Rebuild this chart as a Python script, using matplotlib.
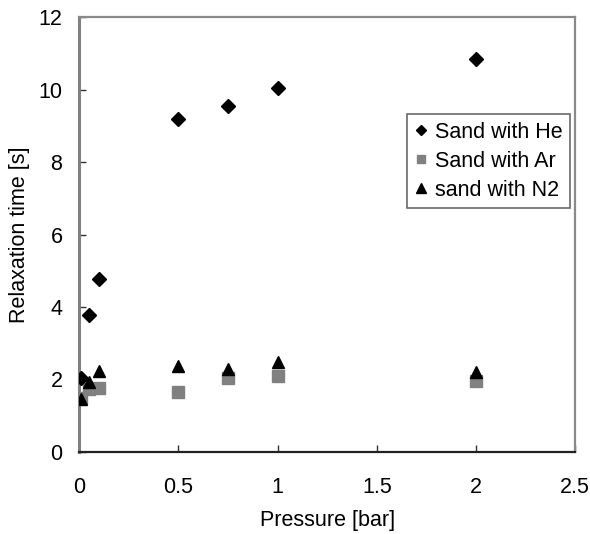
import matplotlib
matplotlib.use("Agg")
import matplotlib.pyplot as plt

plt.rcParams['font.family'] = ['Liberation Sans', 'DejaVu Sans']

# presion [bar] y tiempo de relajacion [s]
p_he = [0.01, 0.05, 0.1, 0.5, 0.75, 1.0, 2.0]
t_he = [2.03, 3.78, 4.78, 9.18, 9.56, 10.03, 10.83]

p_ar = [0.01, 0.05, 0.1, 0.5, 0.75, 1.0, 2.0]
t_ar = [1.50, 1.75, 1.76, 1.65, 2.03, 2.10, 1.96]

p_n2 = [0.01, 0.05, 0.1, 0.5, 0.75, 1.0, 2.0]
t_n2 = [1.45, 1.93, 2.24, 2.38, 2.30, 2.48, 2.20]

xticks = [0, 0.5, 1, 1.5, 2, 2.5]
xticklabels = ['0', '0.5', '1', '1.5', '2', '2.5']
yticks = [0, 2, 4, 6, 8, 10, 12]

fig = plt.figure(figsize=(5.9, 5.34), dpi=100)
ax = fig.add_axes([0.134, 0.1536, 0.841, 0.8144])

ax.plot(p_he, t_he, 'D', color='black', ms=7, label='Sand with He', zorder=3)
ax.plot(p_ar, t_ar, 's', color='#808080', ms=8, label='Sand with Ar', zorder=2)
ax.plot(p_n2, t_n2, '^', color='black', ms=9, label='sand with N2', zorder=3)

ax.set_xlim(0, 2.5)
ax.set_ylim(0, 12)
ax.set_xticks(xticks)
ax.set_xticklabels(xticklabels)
ax.set_yticks(yticks)
ax.tick_params(direction='in', length=5, width=1, labelsize=15.5, color='#333333')
ax.tick_params(axis='x', pad=18)
ax.tick_params(axis='y', pad=12)

ax.spines['left'].set_color('#808080')
ax.spines['left'].set_linewidth(2.2)
ax.spines['bottom'].set_color('#222222')
ax.spines['bottom'].set_linewidth(1.6)
for s in ('top', 'right'):
    ax.spines[s].set_color('#8a8a8a')
    ax.spines[s].set_linewidth(1.6)

ax.set_xlabel('Pressure [bar]', fontsize=15.5, labelpad=9)
ax.set_ylabel('Relaxation time [s]', fontsize=15.5, labelpad=6)

leg = ax.legend(loc='upper left', bbox_to_anchor=(0.661, 0.777), fontsize=15.5,
                frameon=True, fancybox=False, shadow=False, handlelength=0.6,
                handletextpad=0.35, borderpad=0.35, labelspacing=0.38,
                borderaxespad=0, markerscale=0.8)
leg.get_frame().set_edgecolor('#444444')
leg.get_frame().set_linewidth(1.2)

fig.savefig('out.png', dpi=100)
